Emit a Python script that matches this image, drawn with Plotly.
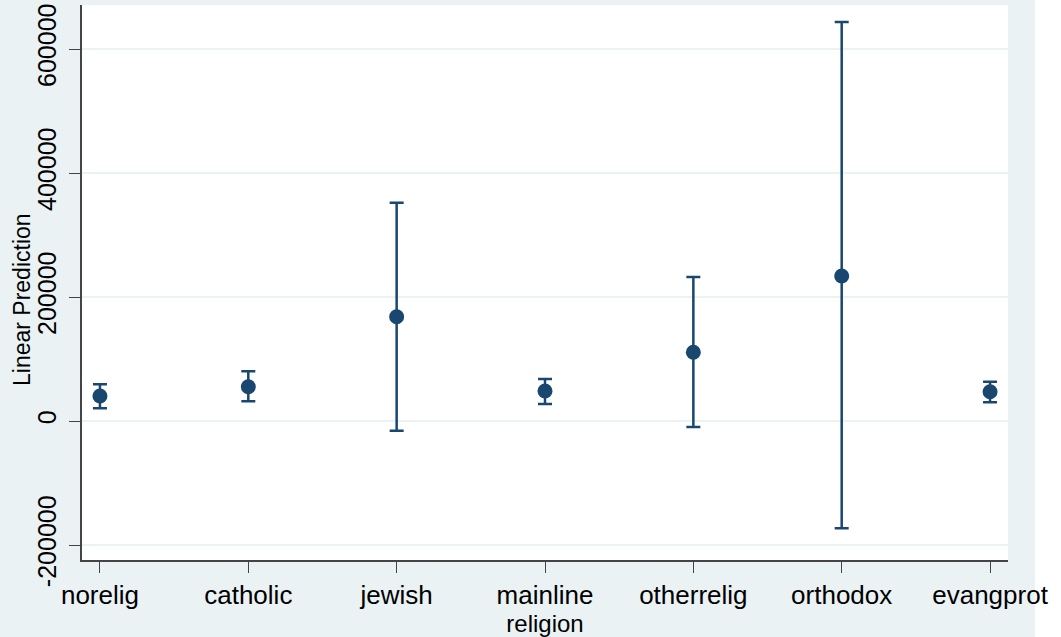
import plotly.graph_objects as go

# Data
categories = ["norelig", "catholic", "jewish", "mainline", "otherrelig", "orthodox", "evangprot"]
margins = [40300, 55300, 168200, 48400, 110800, 233900, 47300]
ci_upper = [59200, 80100, 352100, 67700, 232300, 643500, 63400]
ci_lower = [20400, 31700, -15600, 27400, -9700, -173100, 30100]
y_tick_vals = [-200000, 0, 200000, 400000, 600000]
y_tick_text = ["-200000", "0", "200000", "400000", "600000"]
y_title = "Linear Prediction"
x_title = "religion"

x_pos = list(range(len(categories)))
err_plus = [u - m for u, m in zip(ci_upper, margins)]
err_minus = [m - l for m, l in zip(margins, ci_lower)]

navy = "#1A476F"
bg = "#EAF2F3"
font_family = "Arial, 'Liberation Sans', sans-serif"

fig = go.Figure()
fig.add_trace(go.Scatter(
    x=x_pos, y=margins, mode="markers",
    marker=dict(color=navy, size=15, line=dict(width=0)),
    error_y=dict(type="data", symmetric=False, array=err_plus, arrayminus=err_minus,
                 color=navy, thickness=2.5, width=7),
    showlegend=False,
))

plot_left, plot_right, plot_top, plot_bottom = 82, 1008, 5, 560
W, H = 1061, 637
pw = plot_right - plot_left
ph = plot_bottom - plot_top

fig.update_layout(
    width=W, height=H,
    margin=dict(l=plot_left, r=W - plot_right, t=plot_top, b=H - plot_bottom, pad=0),
    paper_bgcolor=bg, plot_bgcolor="white",
    font=dict(family=font_family, color="black"),
    xaxis=dict(
        range=[-0.121, 6.121],
        tickmode="array", tickvals=x_pos, ticktext=categories,
        showgrid=False, zeroline=False,
        showline=True, linecolor="#444444", linewidth=1.5,
        ticks="outside", ticklen=11, tickwidth=1.2, tickcolor="#444444",
        tickfont=dict(size=26, family=font_family, color="black"),
        title=dict(text=x_title, font=dict(size=24, family=font_family, color="black"), standoff=0),
    ),
    yaxis=dict(
        range=[-224200, 671000],
        tickmode="array", tickvals=y_tick_vals, ticktext=y_tick_text,
        tickangle=-90,
        showgrid=True, gridcolor=bg, gridwidth=2,
        zeroline=False,
        showline=True, linecolor="#444444", linewidth=1.5,
        ticks="outside", ticklen=11, tickwidth=1.2, tickcolor="#444444",
        ticklabelstandoff=3,
        tickfont=dict(size=25, family=font_family, color="black"),
    ),
    annotations=[dict(
        text=y_title, textangle=-90, showarrow=False,
        xref="paper", yref="paper",
        x=(22 - plot_left) / pw, y=(plot_bottom - 300) / ph,
        xanchor="center", yanchor="middle",
        font=dict(size=23, family=font_family, color="black"),
    )],
    shapes=[dict(
        type="rect", xref="paper", yref="paper",
        x0=(1035 - plot_left) / pw, x1=(W + 5 - plot_left) / pw,
        y0=-(H - plot_bottom + 5) / ph, y1=1 + (plot_top + 5) / ph,
        fillcolor="white", line=dict(width=0), layer="below",
    )],
)

fig.write_html(
    "out.html",
    config={"displayModeBar": False},
    post_script="document.body.style.margin='0';document.body.style.overflow='hidden';",
)
